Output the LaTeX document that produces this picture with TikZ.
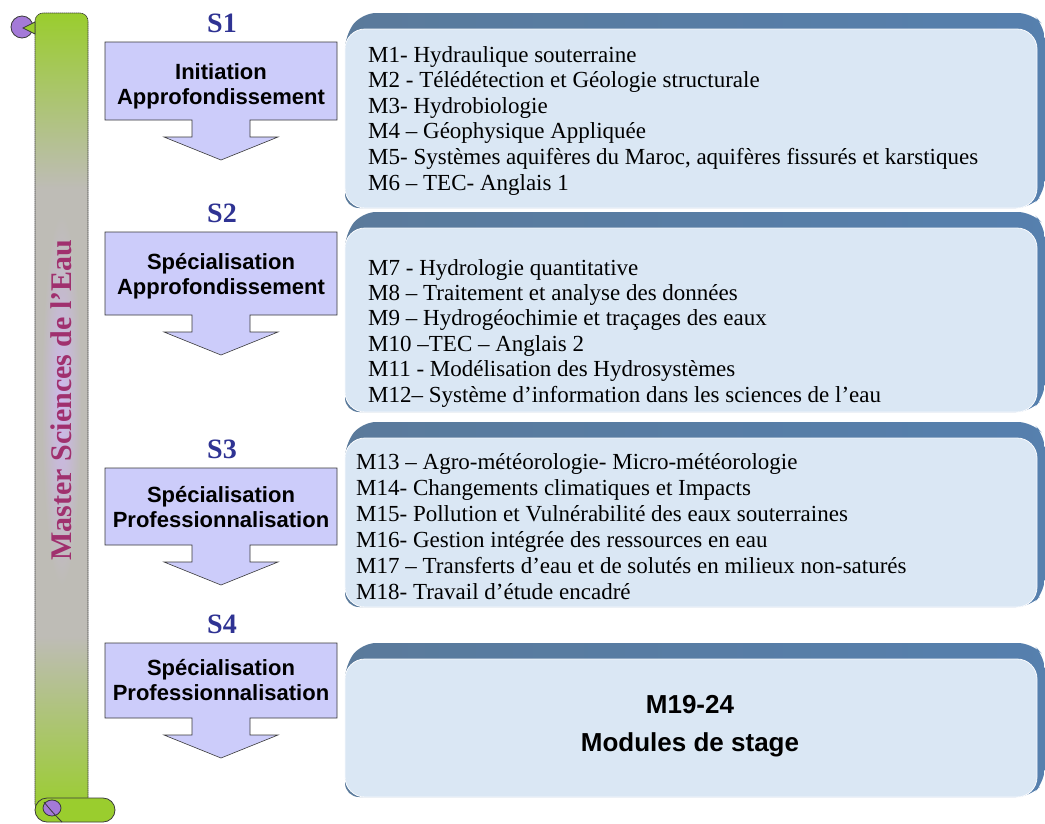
\documentclass[tikz,border=0pt]{standalone}
\usepackage{fontspec}
\setmainfont{Liberation Serif}
\setsansfont{Liberation Sans}
\usetikzlibrary{calc}
\definecolor{scrollgreen}{HTML}{9ACD2E}
\definecolor{scrollgray}{HTML}{BEBCB6}
\definecolor{curlcol}{HTML}{A47AD8}
\definecolor{titlecol}{HTML}{A0306E}
\definecolor{glowcol}{HTML}{CDB8EE}
\definecolor{semblue}{HTML}{2F3393}
\definecolor{callfill}{HTML}{CCCCFA}
\definecolor{boxlight}{HTML}{DAE7F4}
\definecolor{boxdark}{HTML}{5A7A9B}
\definecolor{boxedge}{HTML}{4F88CA}
\definecolor{linecol}{HTML}{3A3A3A}
\pgfdeclareverticalshading{scrollshade}{100bp}{color(0bp)=(scrollgreen); color(25bp)=(scrollgreen); color(36bp)=(scrollgray); color(64bp)=(scrollgray); color(75bp)=(scrollgreen); color(100bp)=(scrollgreen)}
\tikzset{
  scrollbar/.style={draw=linecol, line width=0.6pt, dash pattern=on 1.5pt off 0.5pt,
     shading=scrollshade},
  rollpart/.style={draw=linecol, line width=0.8pt, fill=scrollgreen},
  curlpart/.style={draw=linecol, line width=0.8pt, fill=curlcol},
  titletext/.style={font=\bfseries\fontsize{30}{34}\selectfont, text=titlecol, rotate=90},
  semlabel/.style={font=\bfseries\fontsize{28}{30}\selectfont, text=semblue, anchor=base, inner sep=0pt},
  callout/.style={draw=linecol, line width=0.6pt, fill=callfill},
  calltext/.style={font=\sffamily\bfseries\fontsize{22}{25}\selectfont, align=center, inner sep=0pt},
  backbox/.style={left color=boxdark, right color=boxdark!60!boxedge, rounded corners=14},
  frontbox/.style={fill=boxlight, draw=white!80!boxlight, line width=0.8pt, rounded corners=20},
  modline/.style={font=\fontsize{23}{26}\selectfont, anchor=base west, inner sep=0pt},
  stagetext/.style={font=\sffamily\bfseries\fontsize{26}{30}\selectfont, anchor=base, inner sep=0pt}
}
\newcommand\semstep[6]{%
  \draw[callout] (105,#3) -- (337,#3) -- (337,#4) -- (250,#4) -- (250,#4+17)
     -- (278,#4+17) -- (221,#4+40) -- (164,#4+17) -- (192,#4+17) -- (192,#4)
     -- (105,#4) -- cycle;
  \node[calltext] (#1) at (221,{(#3+#4)/2+#5}) {#6};
  \node[semlabel] (#1lab) at (222,#3-10) {#2};
}
\newcommand\modbox[2]{%
  \path[backbox] (345,#1+22) -- (362,#1) -- (1032,#1) -- (1045,#1+14)
     -- (1045,#2-16) -- (1030,#2) -- (345,#2) -- cycle;
  \path[frontbox] (345,#1+16) rectangle (1037,#2);
}
\begin{document}
\begin{tikzpicture}[x=1pt,y=-1pt]
\useasboundingbox (0,0) rectangle (1045,823);
\fill[white] (0,0) rectangle (1045,823);

% scroll
\path[scrollbar, rounded corners=8] (35,812) -- (35,13) -- (88,13) -- (88,812) -- cycle;
\shade[inner color=glowcol, outer color=scrollgray] (61.5,400) ellipse [x radius=20, y radius=185];
\draw[rollpart, rounded corners=12] (35,798) -- (115,798) -- (115,822) -- (35,822) -- cycle;
\draw[curlpart] (52,808) ellipse [x radius=9, y radius=8];
\draw[linecol, line width=0.8pt] (44,802) .. controls (52,812) and (58,818) .. (62,822);
\draw[curlpart] (22,27) circle [radius=11];
\draw[rollpart] (23,28) -- (35,22) -- (35,34) -- cycle;
\node[titletext] (title) at (61.5,400) {Master Sciences de l’Eau};

% semester callouts
\semstep{c1}{S1}{42}{120}{5}{Initiation\\Approfondissement}
\semstep{c2}{S2}{232}{315}{3}{Spécialisation\\Approfondissement}
\semstep{c3}{S3}{468}{545}{1}{Spécialisation\\Professionnalisation}
\semstep{c4}{S4}{643}{718}{0}{Spécialisation\\Professionnalisation}

% module boxes
\modbox{13}{208}
\modbox{212}{412}
\modbox{422}{607}
\modbox{643}{797}

\foreach \t [count=\i] in {{M1- Hydraulique souterraine},
  {M2 - Télédétection et Géologie structurale},
  {M3- Hydrobiologie},
  {M4 – Géophysique Appliquée},
  {M5- Systèmes aquifères du Maroc, aquifères fissurés et karstiques},
  {M6 – TEC- Anglais 1}}
  \node[modline] (a\i) at (368,{62+25.6*(\i-1)}) {\t};

\foreach \t [count=\i] in {{M7 - Hydrologie quantitative},
  {M8 – Traitement et analyse des données},
  {M9 – Hydrogéochimie et traçages des eaux},
  {M10 –TEC – Anglais 2},
  {M11 - Modélisation des Hydrosystèmes},
  {M12– Système d’information dans les sciences de l’eau}}
  \node[modline] (b\i) at (368,{275+25.4*(\i-1)}) {\t};

\foreach \t [count=\i] in {{M13 – Agro-météorologie- Micro-météorologie},
  {M14- Changements climatiques et Impacts},
  {M15- Pollution et Vulnérabilité des eaux souterraines},
  {M16- Gestion intégrée des ressources en eau},
  {M17 – Transferts d’eau et de solutés en milieux non-saturés},
  {M18- Travail d’étude encadré}}
  \node[modline] (c\i) at (356,{469+26*(\i-1)}) {\t};

\node[stagetext] (d1) at (690,713) {M19-24};
\node[stagetext] (d2) at (690,751) {Modules de stage};
\end{tikzpicture}
\end{document}
